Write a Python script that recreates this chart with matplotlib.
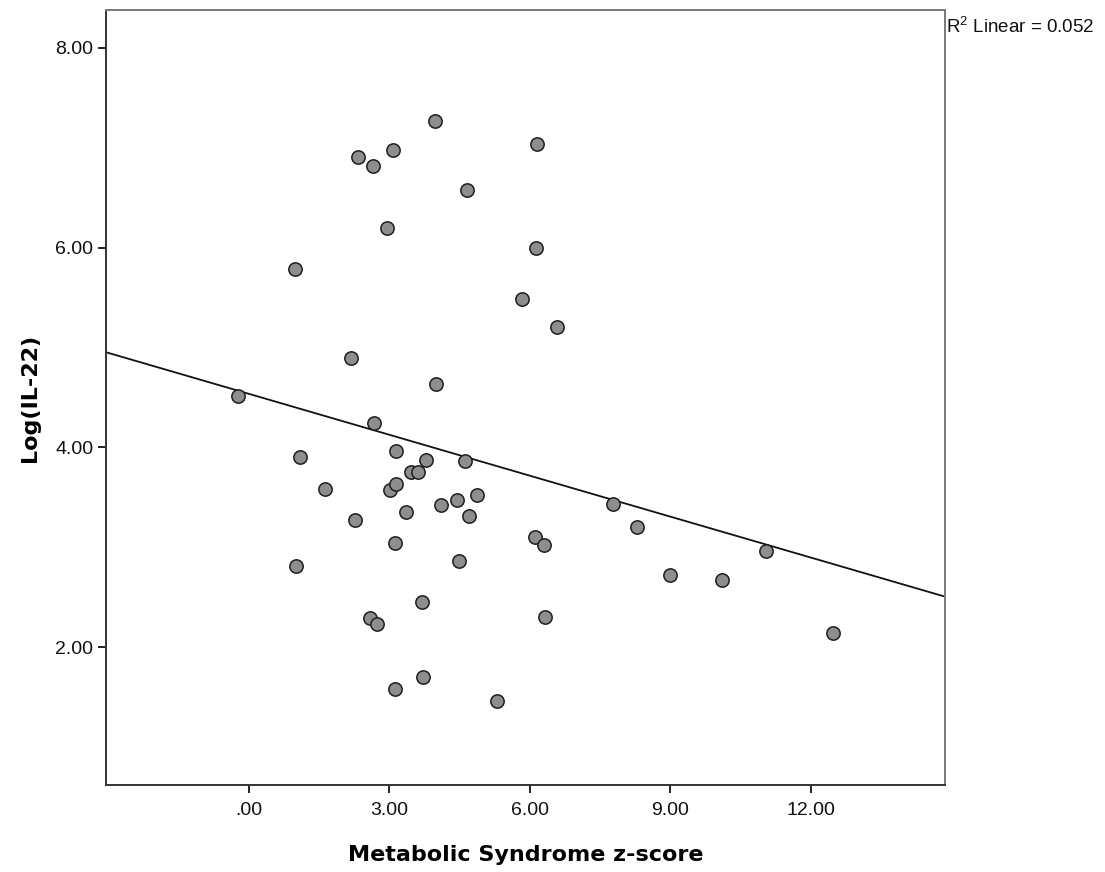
import matplotlib
matplotlib.use('Agg')
import matplotlib.pyplot as plt
from matplotlib.ticker import FuncFormatter
import numpy as np

# Metabolic Syndrome z-score vs Log(IL-22)
ms_zscore = [-0.23, 0.98, 1.09, 1.00, 1.62, 2.18, 2.26, 2.33, 2.65, 2.58,
             2.73, 2.67, 2.95, 3.07, 3.14, 3.01, 3.14, 3.12, 3.12, 3.35,
             3.46, 3.61, 3.78, 3.69, 3.72, 3.97, 3.99, 4.10, 4.44, 4.48,
             4.61, 4.66, 4.70, 4.87, 5.30, 5.83, 6.13, 6.15, 6.11, 6.30,
             6.32, 6.58, 7.77, 8.29, 8.99, 10.10, 11.04, 12.47]
log_il22 = [4.51, 5.79, 3.90, 2.81, 3.58, 4.90, 3.27, 6.91, 6.82, 2.29,
            2.23, 4.24, 6.20, 6.98, 3.96, 3.57, 3.63, 3.04, 1.58, 3.35,
            3.75, 3.75, 3.87, 2.45, 1.70, 7.27, 4.63, 3.42, 3.47, 2.86,
            3.86, 6.58, 3.31, 3.52, 1.46, 5.49, 6.00, 7.04, 3.10, 3.02,
            2.30, 5.21, 3.43, 3.20, 2.72, 2.67, 2.96, 2.14]

x_ticks = [0, 3, 6, 9, 12]
y_ticks = [2, 4, 6, 8]
r2_label = r'R$^2$ Linear = 0.052'

plt.rcParams['mathtext.fontset'] = 'custom'
plt.rcParams['mathtext.rm'] = 'Liberation Sans'
plt.rcParams['mathtext.it'] = 'Liberation Sans'

fig = plt.figure(figsize=(11.05, 8.72), dpi=100)
ax = fig.add_axes([0.0959, 0.0998, 0.7593, 0.8888])

x = np.array(ms_zscore)
y = np.array(log_il22)

ax.scatter(x, y, s=92, facecolor='#8e8e8e', edgecolor='#1e1e1e',
           linewidth=1.1, zorder=3)

# least squares fit line across the whole x range
xlim = (-3.05, 14.86)
slope, intercept = np.polyfit(x, y, 1)
xs = np.array(xlim)
ax.plot(xs, slope * xs + intercept, color='#111111', lw=1.3, zorder=2)

ax.set_xlim(xlim)
ax.set_ylim(0.62, 8.38)
ax.set_xticks(x_ticks)
ax.set_yticks(y_ticks)

fmt = FuncFormatter(lambda v, p: ('%.2f' % v).lstrip('0') if abs(v) < 1 else '%.2f' % v)
ax.xaxis.set_major_formatter(fmt)
ax.yaxis.set_major_formatter(fmt)

for lab in ax.get_xticklabels() + ax.get_yticklabels():
    lab.set_fontfamily('Liberation Sans')
    lab.set_fontsize(14)
    lab.set_color('#111111')

ax.tick_params(direction='out', length=6, width=1.4, color='#222222')
ax.tick_params(axis='x', pad=6)
ax.tick_params(axis='y', pad=3)

for side in ['left', 'bottom']:
    ax.spines[side].set_color('#333333')
    ax.spines[side].set_linewidth(1.4)
for side in ['top', 'right']:
    ax.spines[side].set_color('#7a7a7a')
    ax.spines[side].set_linewidth(1.4)

ax.set_xlabel('Metabolic Syndrome z-score', fontsize=16, fontweight='bold',
              family='DejaVu Sans', labelpad=19)
ax.set_ylabel('Log(IL-22)', fontsize=16, fontweight='bold',
              family='DejaVu Sans', labelpad=11)

fig.text(0.856, 0.962, r2_label, fontsize=13.5, family='Liberation Sans',
         ha='left', va='baseline', color='#111111')

fig.savefig('out.png', dpi=100, facecolor='white')
